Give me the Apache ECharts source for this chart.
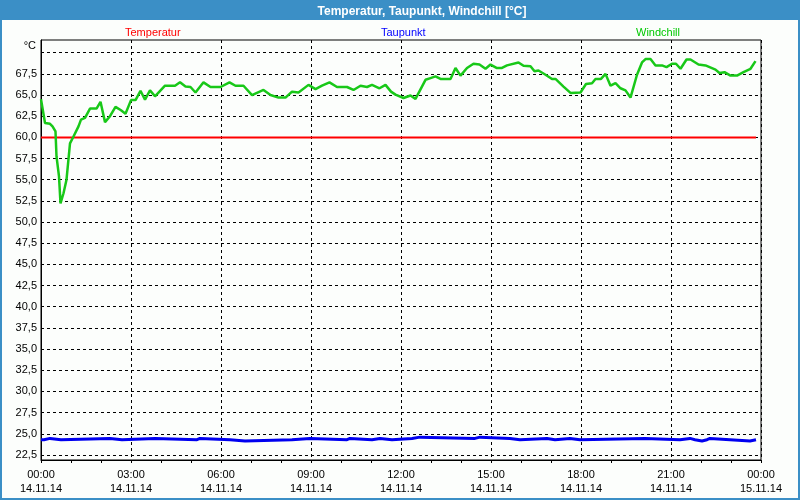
<!DOCTYPE html>
<html><head><meta charset="utf-8">
<script src="https://cdn.jsdelivr.net/npm/echarts@6/dist/echarts.min.js"></script>
<style>html,body{margin:0;padding:0;background:#fcfefc}#c{width:800px;height:500px}</style>
</head><body><div id="c"></div>
<script>
// ---- data ----
const titleText = 'Temperatur, Taupunkt, Windchill [°C]';
const seriesNames = ['Temperatur', 'Taupunkt', 'Windchill'];
const xTickMinutes = [0, 180, 360, 540, 720, 900, 1080, 1260, 1440];
const xTickTimes = ['00:00', '03:00', '06:00', '09:00', '12:00', '15:00', '18:00', '21:00', '00:00'];
const xTickDates = ['14.11.14', '14.11.14', '14.11.14', '14.11.14', '14.11.14', '14.11.14', '14.11.14', '14.11.14', '15.11.14'];
const yTickValues = [22.5, 25, 27.5, 30, 32.5, 35, 37.5, 40, 42.5, 45, 47.5, 50, 52.5, 55, 57.5, 60, 62.5, 65, 67.5];
const yTickLabels = ['22,5', '25,0', '27,5', '30,0', '32,5', '35,0', '37,5', '40,0', '42,5', '45,0', '47,5', '50,0', '52,5', '55,0', '57,5', '60,0', '62,5', '65,0', '67,5'];
const yGridValues = [22.5, 25, 27.5, 30, 32.5, 35, 37.5, 40, 42.5, 45, 47.5, 50, 52.5, 55, 57.5, 60, 62.5, 65, 67.5, 70];

// minutes since 14.11.14 00:00
const tempTimes = [0, 1430];
const tempValues = [60.0, 60.0];

const dewTimes = [0, 6, 8, 18, 20, 40, 42, 138, 140, 162, 164, 228, 230, 312, 314, 318, 320, 378, 380, 408, 410, 502, 504, 538, 540, 612, 614, 618, 620, 662, 664, 678, 680, 702, 704, 742, 744, 758, 760, 868, 870, 878, 880, 938, 940, 958, 960, 1012, 1014, 1028, 1030, 1058, 1060, 1078, 1080, 1208, 1210, 1278, 1280, 1298, 1300, 1308, 1310, 1322, 1324, 1332, 1334, 1338, 1340, 1378, 1380, 1418, 1420, 1430];
const dewValues = [24.3, 24.3, 24.45, 24.45, 24.3, 24.3, 24.45, 24.45, 24.3, 24.3, 24.45, 24.45, 24.3, 24.3, 24.45, 24.45, 24.3, 24.3, 24.15, 24.15, 24.3, 24.3, 24.45, 24.45, 24.3, 24.3, 24.45, 24.45, 24.3, 24.3, 24.45, 24.45, 24.3, 24.3, 24.45, 24.45, 24.6, 24.6, 24.45, 24.45, 24.6, 24.6, 24.45, 24.45, 24.3, 24.3, 24.45, 24.45, 24.3, 24.3, 24.45, 24.45, 24.3, 24.3, 24.45, 24.45, 24.3, 24.3, 24.45, 24.45, 24.3, 24.3, 24.15, 24.15, 24.3, 24.3, 24.45, 24.45, 24.3, 24.3, 24.15, 24.15, 24.3, 24.3];

const chillTimes = [0, 8, 18, 23, 29, 31, 36, 39, 45, 51, 58, 65, 75, 80, 88, 98, 111, 119, 128, 138, 149, 160, 169, 180, 189, 199, 208, 218, 228, 248, 268, 278, 289, 299, 309, 325, 339, 359, 377, 389, 405, 422, 445, 459, 475, 489, 502, 515, 535, 549, 562, 577, 592, 612, 625, 639, 652, 662, 677, 689, 700, 709, 725, 739, 749, 769, 779, 789, 799, 819, 829, 839, 852, 865, 877, 889, 899, 911, 922, 932, 955, 965, 979, 987, 995, 1009, 1022, 1029, 1045, 1059, 1079, 1090, 1102, 1109, 1120, 1129, 1139, 1149, 1159, 1169, 1179, 1192, 1202, 1209, 1219, 1229, 1242, 1251, 1262, 1270, 1279, 1291, 1299, 1315, 1329, 1349, 1357, 1367, 1379, 1392, 1405, 1419, 1429];
const chillValues = [64.5, 61.7, 61.6, 61.3, 60.7, 57.75, 55.4, 52.2, 53.4, 55.0, 59.3, 60.1, 61.3, 62.1, 62.3, 63.4, 63.4, 64.2, 61.8, 62.5, 63.6, 63.2, 62.8, 64.4, 64.4, 65.5, 64.45, 65.55, 64.85, 66.1, 66.1, 66.5, 66.0, 65.95, 65.3, 66.5, 65.95, 65.95, 66.5, 66.1, 66.1, 65.0, 65.6, 65.0, 64.7, 64.7, 65.4, 65.3, 66.2, 65.7, 66.1, 66.5, 65.95, 65.95, 65.6, 66.1, 65.95, 66.2, 65.8, 66.2, 65.4, 65.05, 64.65, 64.95, 64.55, 66.8, 67.0, 67.2, 66.9, 66.9, 68.2, 67.3, 68.2, 68.7, 68.6, 68.1, 68.6, 68.2, 68.2, 68.5, 68.85, 68.45, 68.4, 67.8, 67.9, 67.4, 66.9, 66.9, 66.0, 65.25, 65.3, 66.3, 66.4, 66.9, 66.9, 67.5, 66.1, 66.4, 65.8, 65.55, 64.7, 67.4, 68.85, 69.25, 69.25, 68.5, 68.5, 68.3, 68.7, 68.7, 68.1, 69.2, 69.2, 68.6, 68.5, 68.0, 67.6, 67.7, 67.3, 67.3, 67.7, 68.1, 69.0];

// ---- chart ----
const zip = (a, b) => a.map((t, i) => [t, b[i]]);
const FONT = 'Liberation Sans';
const frameBlue = '#3b8fc6';
const chart = echarts.init(document.getElementById('c'), null, {renderer: 'canvas'});

const legendBase = {
  top: 22, itemWidth: 0, itemHeight: 0, icon: 'none', selectedMode: false,
  textStyle: {fontFamily: FONT, fontSize: 11}
};

chart.setOption({
  animation: false,
  backgroundColor: '#fcfefc',
  title: {
    text: titleText, left: 417, top: 1, textAlign: 'center', z: 10,
    textStyle: {color: '#fff', fontFamily: FONT, fontSize: 12, fontWeight: 'bold'}
  },
  graphic: [
    {type: 'rect', z: 0, shape: {x: 0, y: 0, width: 800, height: 20}, style: {fill: frameBlue}},
    {type: 'rect', z: 0, shape: {x: 1, y: 1, width: 798, height: 498}, style: {fill: null, stroke: frameBlue, lineWidth: 2}}
  ],
  legend: [
    Object.assign({}, legendBase, {left: 115, data: [{name: seriesNames[0], textStyle: {color: '#ff0000'}}]}),
    Object.assign({}, legendBase, {left: 371, data: [{name: seriesNames[1], textStyle: {color: '#0000ff'}}]}),
    Object.assign({}, legendBase, {left: 626, data: [{name: seriesNames[2], textStyle: {color: '#00c800'}}]})
  ],
  grid: {
    left: 41, right: 39, top: 40, bottom: 40, show: true,
    backgroundColor: '#fcfefc', borderColor: '#000', borderWidth: 1
  },
  xAxis: {
    type: 'value', min: 0, max: 1440, interval: 180,
    axisLine: {lineStyle: {color: '#000', width: 1}},
    axisTick: {show: true, length: 3, lineStyle: {color: '#000'}},
    minorTick: {show: true, splitNumber: 3, length: 3, lineStyle: {color: '#000'}},
    splitLine: {show: true, lineStyle: {color: '#000', type: [3, 3], width: 1}},
    axisLabel: {
      color: '#000', fontFamily: FONT, fontSize: 11, margin: 8, lineHeight: 14,
      formatter: v => {
        const i = xTickMinutes.indexOf(v);
        return i < 0 ? '' : xTickTimes[i] + '\n' + xTickDates[i];
      }
    }
  },
  yAxis: {
    type: 'value', min: 21.9, max: 71.5,
    name: '°C', nameLocation: 'end', nameGap: -6,
    nameTextStyle: {color: '#000', fontFamily: FONT, fontSize: 11, align: 'right', verticalAlign: 'middle', padding: [0, 5, 0, 0]},
    axisLine: {show: true, lineStyle: {color: '#000'}},
    axisTick: {show: false, customValues: yGridValues},
    splitLine: {show: true, lineStyle: {color: '#000', type: [3, 3], width: 1}},
    axisLabel: {
      color: '#000', fontFamily: FONT, fontSize: 11, margin: 4,
      customValues: yTickValues,
      formatter: v => {
        const i = yTickValues.findIndex(t => Math.abs(t - v) < 1e-6);
        return i < 0 ? '' : yTickLabels[i];
      }
    }
  },
  series: [
    {name: seriesNames[0], type: 'line', data: zip(tempTimes, tempValues), showSymbol: false, z: 3,
     lineStyle: {color: '#ff0000', width: 2}, itemStyle: {color: '#ff0000'}},
    {name: seriesNames[1], type: 'line', data: zip(dewTimes, dewValues), showSymbol: false, z: 4,
     lineStyle: {color: '#0000f0', width: 3}, itemStyle: {color: '#0000f0'}},
    {name: seriesNames[2], type: 'line', data: zip(chillTimes, chillValues), showSymbol: false, z: 5,
     lineStyle: {color: '#18c818', width: 2.5}, itemStyle: {color: '#18c818'}}
  ]
});
</script></body></html>
